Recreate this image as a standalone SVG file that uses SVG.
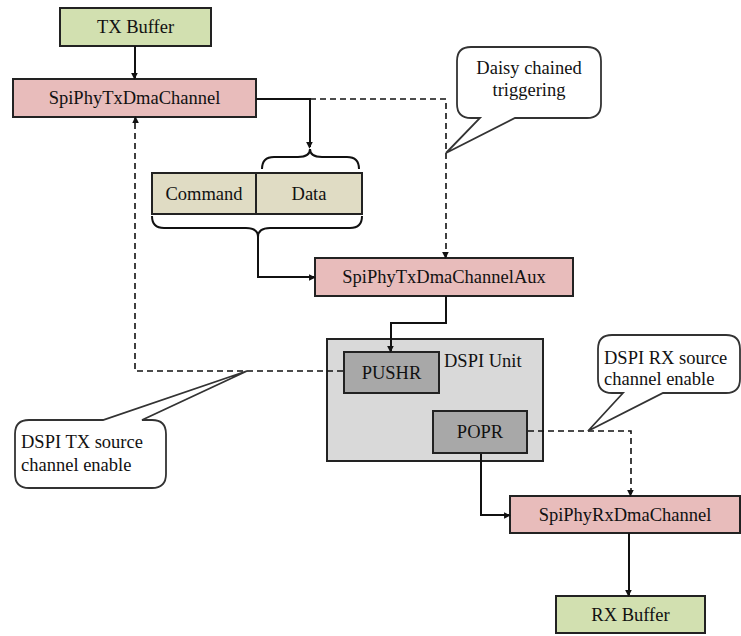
<svg xmlns="http://www.w3.org/2000/svg" width="741" height="636" viewBox="0 0 741 636">
<defs>
<style>
text{font-family:"Times New Roman",Times,"Liberation Serif",Tinos,"DejaVu Serif",serif;font-size:18.5px;fill:#111}
.c{text-anchor:middle}
.box{stroke:#222;stroke-width:2}
.green{fill:#d2e0b0}
.pink{fill:#e8bcbb}
.beige{fill:#e0dcc4}
.unit{fill:#d9d9d9}
.reg{fill:#a8a8a8}
.ln{fill:none;stroke:#111;stroke-width:2}
.dash{fill:none;stroke:#111;stroke-width:1.6;stroke-dasharray:6,4}
.call{fill:#fff;stroke:#333;stroke-width:1.8}
</style>
<marker id="ah" viewBox="0 0 10 10" refX="9" refY="5" markerWidth="5.5" markerHeight="5.5" orient="auto" markerUnits="userSpaceOnUse" overflow="visible">
<path d="M0,0 L10,5 L0,10 Z" fill="#111" transform="scale(1.2)"/>
</marker>
</defs>
<rect width="741" height="636" fill="#fff"/>

<g id="tx-buffer">
<rect class="box green" x="60" y="8" width="151" height="38"/>
<text class="c" x="135.5" y="33">TX Buffer</text>
</g>

<g id="spi-tx-dma">
<rect class="box pink" x="13" y="79" width="243" height="38"/>
<text class="c" x="134.5" y="104">SpiPhyTxDmaChannel</text>
</g>

<g id="command-data">
<rect class="box beige" x="152" y="173" width="104" height="41"/>
<rect class="box beige" x="256" y="173" width="106" height="41"/>
<text class="c" x="204" y="200">Command</text>
<text class="c" x="309" y="200">Data</text>
</g>

<g id="spi-tx-dma-aux">
<rect class="box pink" x="315" y="258" width="258" height="38"/>
<text class="c" x="444" y="283">SpiPhyTxDmaChannelAux</text>
</g>

<g id="dspi-unit">
<rect class="box unit" x="327" y="339" width="216" height="122"/>
<text x="444" y="367">DSPI Unit</text>
</g>

<g id="pushr">
<rect class="box reg" x="344" y="352" width="95" height="41"/>
<text class="c" x="391.5" y="379">PUSHR</text>
</g>

<g id="popr">
<rect class="box reg" x="433" y="411" width="94" height="42"/>
<text class="c" x="480" y="438">POPR</text>
</g>

<g id="spi-rx-dma">
<rect class="box pink" x="510" y="496" width="230" height="37"/>
<text class="c" x="625" y="521">SpiPhyRxDmaChannel</text>
</g>

<g id="rx-buffer">
<rect class="box green" x="556" y="596" width="149" height="37"/>
<text class="c" x="630.5" y="621">RX Buffer</text>
</g>

<g id="connectors">
<line class="ln" x1="135" y1="46" x2="135" y2="78" marker-end="url(#ah)"/>
<polyline class="ln" points="256,99 310,99 310,147" marker-end="url(#ah)"/>
<polyline class="dash" points="310,99 446,99 446,257" marker-end="url(#ah)"/>
<path class="ln" d="M262,169 Q262,157 274,157 L298,157 Q310,157 310,149 Q310,157 322,157 L347,157 Q359,157 359,169" stroke-width="1.8"/>
<path class="ln" d="M152,216 Q152,228 164,228 L246,228 Q258,228 258,237 Q258,228 270,228 L350,228 Q362,228 362,216" stroke-width="1.8"/>
<polyline class="ln" points="258,237 258,277 314,277" marker-end="url(#ah)"/>
<polyline class="ln" points="446,296 446,323 391,323 391,351" marker-end="url(#ah)"/>
<polyline class="dash" points="343,371 135,371 135,118" marker-end="url(#ah)"/>
<polyline class="dash" points="528,431 631,431 631,495" marker-end="url(#ah)"/>
<polyline class="ln" points="481,454 481,515 509,515" marker-end="url(#ah)"/>
<line class="ln" x1="629" y1="533" x2="629" y2="595" marker-end="url(#ah)"/>
</g>

<g id="daisy-callout">
<path class="call" d="M471,47 H587 Q601,47 601,61 V104 Q601,118 587,118 H515 L446,153 L480,118 H471 Q457,118 457,104 V61 Q457,47 471,47 Z"/>
<text class="c" x="529" y="74">Daisy chained</text>
<text class="c" x="529" y="96">triggering</text>
</g>

<g id="rx-callout">
<path class="call" d="M612,335 H726 Q740,335 740,349 V379 Q740,393 726,393 H663 L588,431 L623,393 H612 Q598,393 598,379 V349 Q598,335 612,335 Z"/>
<text x="604" y="364">DSPI RX source</text>
<text x="604" y="385">channel  enable</text>
</g>

<g id="tx-callout">
<path class="call" d="M29,420 H103 L247,371 L142,420 H152 Q166,420 166,434 V474 Q166,488 152,488 H29 Q15,488 15,474 V434 Q15,420 29,420 Z"/>
<text x="21" y="448">DSPI TX source</text>
<text x="21" y="471">channel  enable</text>
</g>
</svg>
